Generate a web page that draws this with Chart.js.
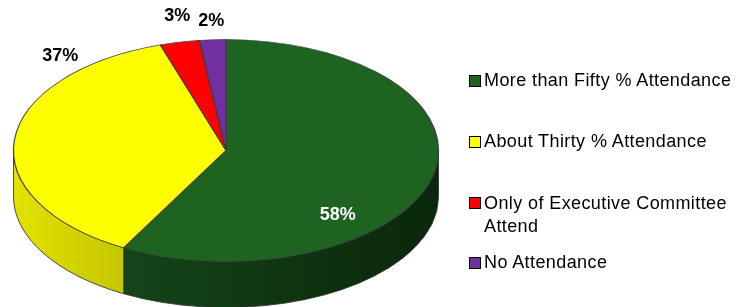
<!DOCTYPE html>
<html><head><meta charset="utf-8">
<script src="https://cdn.jsdelivr.net/npm/chart.js@4/dist/chart.umd.min.js"></script>
<style>
html,body{margin:0;padding:0;background:#fff;}
#wrap{position:relative;width:747px;height:307px;overflow:hidden;}
#c{position:absolute;left:0;top:0;}
#legend{position:absolute;left:469px;top:0;width:278px;height:307px;font-family:"Liberation Sans",Arial,sans-serif;font-size:18px;letter-spacing:0.4px;color:#000;}
.item{position:absolute;left:0;width:278px;}
.sw{position:absolute;left:0;width:10px;height:10px;border:1px solid #000;}
.tx{position:absolute;left:15px;width:260px;line-height:23.4px;}
</style></head><body>
<div id="wrap"><canvas id="c" width="747" height="307"></canvas><div id="legend"></div></div>
<script>
const categories = ['More than Fifty % Attendance','About Thirty % Attendance','Only of Executive Committee Attend','No Attendance'];
const values = [58, 37, 3, 2];
const valueLabels = ['58%', '37%', '3%', '2%'];
const topColors = ['#1e6420', '#ffff00', '#ff0000', '#7030a0'];
const sideColors = [['#144517', '#0a270b'], ['#e2e200', '#c6c600'], ['#c00000', '#900000'], ['#562478', '#3d1a55']];

// layout of the drawn pie (ellipse) and labels
const CX = 226, CY = 150.5, RX = 212.5, RY = 111, DEPTH = 46;
const labelAngleDeg = [48.1, -132.5, -100.7, -93.4];
const labelRadius = [0.787, 1.155, 1.237, 1.164];
const labelColor = ['#ffffff', '#000000', '#000000', '#000000'];
const legendTops = [69, 130, 191.6, 251.3];

const pie3d = {
  id: 'pie3d',
  beforeDatasetsDraw(chart) {
    const ctx = chart.ctx;
    const meta = chart.getDatasetMeta(0);
    const a0 = meta.data[0];
    const r = a0.outerRadius;
    meta.data.forEach((arc, i) => {
      const s = arc.startAngle, e = arc.endAngle;
      [0, 2 * Math.PI, -2 * Math.PI].forEach(off => {
        const lo = Math.max(s + off, 0), hi = Math.min(e + off, Math.PI);
        if (hi <= lo) return;
        ctx.save();
        ctx.beginPath();
        ctx.ellipse(CX, CY, RX, RY, 0, lo, hi, false);
        ctx.lineTo(CX + RX * Math.cos(hi), CY + DEPTH + RY * Math.sin(hi));
        ctx.ellipse(CX, CY + DEPTH, RX, RY, 0, hi, lo, true);
        ctx.closePath();
        const x1 = CX + RX * Math.cos(hi), x2 = CX + RX * Math.cos(lo);
        const g = ctx.createLinearGradient(Math.min(x1, x2), 0, Math.max(x1, x2), 0);
        g.addColorStop(0, sideColors[i][0]);
        g.addColorStop(1, sideColors[i][1]);
        ctx.fillStyle = g;
        ctx.fill();
        ctx.lineWidth = 1;
        ctx.strokeStyle = 'rgba(50,50,50,0.85)';
        ctx.stroke();
        ctx.restore();
      });
    });
    ctx.save();
    ctx.translate(CX, CY);
    ctx.scale(RX / r, RY / r);
    ctx.translate(-a0.x, -a0.y);
  },
  afterDatasetsDraw(chart) {
    const ctx = chart.ctx;
    ctx.restore();
    ctx.save();
    ctx.font = 'bold 18px "Liberation Sans", Arial, sans-serif';
    ctx.textAlign = 'center';
    ctx.textBaseline = 'middle';
    valueLabels.forEach((t, i) => {
      const a = labelAngleDeg[i] * Math.PI / 180;
      ctx.fillStyle = labelColor[i];
      ctx.fillText(t, CX + RX * labelRadius[i] * Math.cos(a), CY + RY * labelRadius[i] * Math.sin(a));
    });
    ctx.restore();
  }
};

new Chart(document.getElementById('c'), {
  type: 'pie',
  data: {
    labels: categories,
    datasets: [{
      data: values,
      backgroundColor: topColors,
      borderColor: 'rgba(60,60,60,0.9)',
      borderWidth: 0.9,
      clip: false
    }]
  },
  options: {
    responsive: false,
    devicePixelRatio: 1,
    animation: false,
    layout: { padding: { left: 0, right: 295, top: 0, bottom: 7 } },
    plugins: { legend: { display: false }, tooltip: { enabled: false } }
  },
  plugins: [pie3d]
});

const leg = document.getElementById('legend');
categories.forEach((c, i) => {
  const it = document.createElement('div');
  it.className = 'item';
  it.style.top = legendTops[i] + 'px';
  const sw = document.createElement('div');
  sw.className = 'sw';
  sw.style.top = '5.7px';
  sw.style.background = topColors[i];
  const tx = document.createElement('div');
  tx.className = 'tx';
  tx.textContent = c;
  it.appendChild(sw);
  it.appendChild(tx);
  leg.appendChild(it);
});
</script>
</body></html>
